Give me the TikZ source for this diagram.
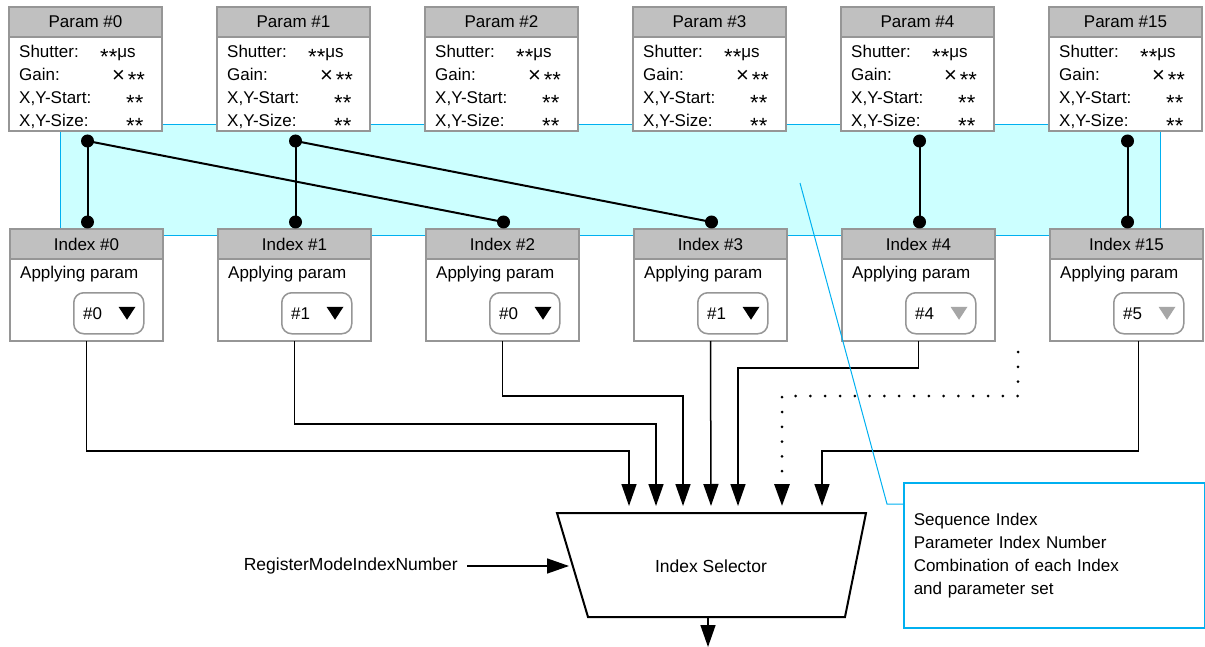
\documentclass[tikz,border=0pt]{standalone}
\usepackage{fontspec}
\setmainfont{Liberation Sans}
\usetikzlibrary{arrows.meta,positioning}
\definecolor{hdrgray}{HTML}{C0C0C0}
\definecolor{boxgray}{HTML}{969696}
\definecolor{tipgray}{HTML}{A6A6A6}
\definecolor{lightcyan}{HTML}{CCFFFF}
\definecolor{skyline}{HTML}{00B0F0}

\tikzset{
	box/.style={draw=boxgray, line width=1.5pt, fill=white, anchor=north west, minimum width=153pt, inner sep=0pt, outer sep=0pt},
	hdr/.style={box, fill=hdrgray, minimum height=30pt, font=\fontsize{17}{20}\selectfont},
	row/.style={anchor=base west, inner sep=0pt, font=\fontsize{17}{20}\selectfont},
	pick/.style={draw=boxgray, line width=1.5pt, fill=white, rounded corners=10pt, anchor=north west, minimum width=70pt, minimum height=41pt, inner sep=0pt},
	link/.style={line width=2pt},
	flow/.style={line width=1.5pt, -{Triangle[length=22pt,width=15pt]}},
	lbl/.style={inner sep=0pt, font=\fontsize{17.5}{23}\selectfont}
}
\newcommand{\stars}{\raisebox{-6.5pt}[8pt][0pt]{\fontsize{22}{22}\selectfont**}}
\newcommand{\mult}{\raisebox{-2pt}[9pt][0pt]{\fontsize{22}{22}\selectfont ×}}

\begin{document}
\begin{tikzpicture}[x=1pt, y=-1pt]
		\useasboundingbox (0,0) rectangle (1205,647);
		% shaded band behind the links
		\draw[skyline, fill=lightcyan, line width=1pt] (60,125) rectangle (1160,236);

		% parameter sets
		\foreach \i/\n in {0/0,1/1,2/2,3/3,4/4,5/15}{
			\node[hdr] (ph\i) at (9+208*\i,7) {Param \#\n};
			\node[box, minimum height=94pt] (pb\i) at (ph\i.south west) {};
			\node[row] at ([shift={(10,21)}]pb\i.north west) {Shutter:};
			\node[row] at ([shift={(10,44)}]pb\i.north west) {Gain:};
			\node[row] at ([shift={(10,67)}]pb\i.north west) {X,Y-Start:};
			\node[row] at ([shift={(10,90)}]pb\i.north west) {X,Y-Size:};
			\node[row] at ([shift={(91,21)}]pb\i.north west) {\stars μs};
			\node[row] at ([shift={(103,44)}]pb\i.north west) {\mult\,\stars};
			\node[row] at ([shift={(117,67)}]pb\i.north west) {\stars};
			\node[row] at ([shift={(117,90)}]pb\i.north west) {\stars};
			\coordinate (pd\i) at ([shift={(2,10)}]pb\i.south);
		}

		% sequence indexes
		\foreach \i/\n/\v/\c in {0/0/0/black,1/1/1/black,2/2/0/black,3/3/1/black,4/4/4/tipgray,5/15/5/tipgray}{
			\node[hdr] (ih\i) at (10+208*\i,229) {Index \#\n};
			\node[box, minimum height=82pt] (ib\i) at (ih\i.south west) {};
			\node[row] at ([shift={(10,19)}]ib\i.north west) {Applying param};
			\node[pick] (dd\i) at ([shift={(63,33)}]ib\i.north west) {};
			\node[row, anchor=west] at ([xshift=10pt]dd\i.west) {\#\v};
			\fill[\c] ([shift={(-26,-6.5)}]dd\i.east) -- ++(17,0) -- ++(-8.5,13) -- cycle;
			\coordinate (id\i) at ([shift={(1,-7)}]ih\i.north);
		}

		% which parameter set each index uses
		\draw[link] (pd0) -- (id0);
		\draw[link] (pd0) -- (id2);
		\draw[link] (pd1) -- (id1);
		\draw[link] (pd1) -- (id3);
		\draw[link] (pd4) -- (id4);
		\draw[link] (pd5) -- (id5);
		\foreach \d in {pd0,pd1,pd4,pd5,id0,id1,id2,id3,id4,id5}
			\fill (\d) circle[radius=6.5pt];

		% selector
		\coordinate (s1) at (557,513);
		\coordinate (s2) at (866,513);
		\coordinate (s3) at (845,617);
		\coordinate (s4) at (588,617);
		\draw[line width=2pt] (s1) -- (s2) -- (s3) -- (s4) -- cycle;
		\node[lbl] (sel) at (711,566) {Index Selector};
		\foreach \k/\x in {0/629,1/656,2/683,3/711,4/738,5/782,6/822}
			\coordinate (in\k) at (\x,506);

		\draw[flow] (ib0.south) -- ++(0,110) -| (in0);
		\draw[flow] (ib1.south) -- ++(0,83) -| (in1);
		\draw[flow] (ib2.south) -- ++(0,55) -| (in2);
		\draw[flow] (ib3.south) -- (in3);
		\draw[flow] (ib4.south) -- ++(0,27) -| (in4);
		\draw[flow] ([xshift=12pt]ib5.south) -- ++(0,110) -| (in6);
		\coordinate (more) at (1018,352);
		\draw[line width=3pt, line cap=round, dash pattern=on 0pt off 14.8pt, -{Triangle[length=22pt,width=15pt]}] (more) -- ++(0,44) -| (in5);

		\coordinate (out) at (708,647);
		\draw[flow] (out |- s4) -- (out);
		\node[lbl, anchor=east] (reg) at (458,566) {RegisterModeIndexNumber};
		\coordinate (selin) at (569,566);
		\draw[flow] ([xshift=9pt]reg.east) -- (selin);

		% note
		\node[draw=skyline, line width=1.5pt, anchor=north west, minimum width=301pt, minimum height=145pt, text width=281pt, inner xsep=10pt, align=left, font=\fontsize{17}{23}\selectfont] (note) at (903,482) {Sequence Index\\Parameter Index Number\\Combination of each Index\\and parameter set};
		\coordinate (callout) at (800,183);
		\draw[skyline, line width=1pt] (callout) -- (887,504) -- ([yshift=-22pt]note.north west);
	\end{tikzpicture}
\end{document}
